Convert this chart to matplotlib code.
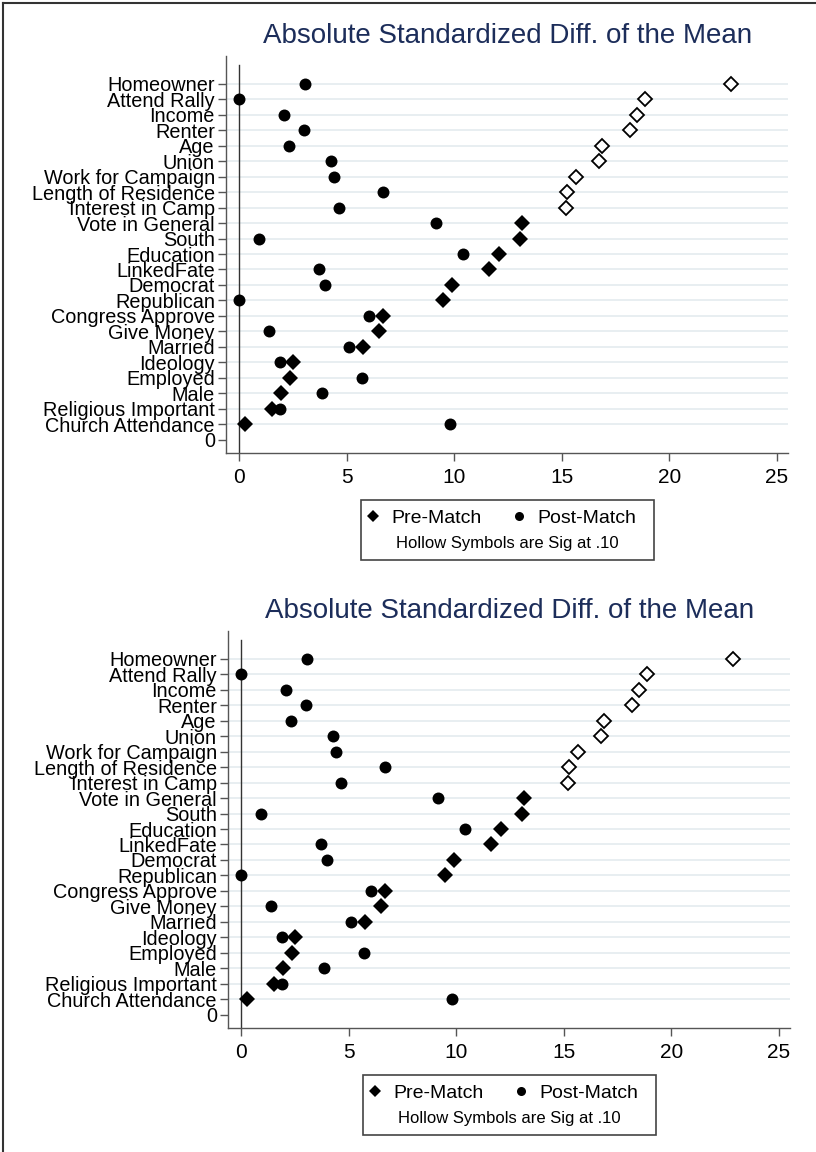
import matplotlib

matplotlib.use("Agg")
import matplotlib.pyplot as plt
from matplotlib.lines import Line2D
from matplotlib.patches import Rectangle

plt.rcParams["font.family"] = ["Liberation Sans", "DejaVu Sans"]

# covariates, top to bottom
VARIABLES = [
    "Homeowner", "Attend Rally", "Income", "Renter", "Age", "Union",
    "Work for Campaign", "Length of Residence", "Interest in Camp",
    "Vote in General", "South", "Education", "LinkedFate", "Democrat",
    "Republican", "Congress Approve", "Give Money", "Married", "Ideology",
    "Employed", "Male", "Religious Important", "Church Attendance",
]
PRE_MATCH = [
    22.85, 18.87, 18.48, 18.17, 16.88, 16.74, 15.66, 15.23, 15.18,
    13.15, 13.05, 12.08, 11.62, 9.88, 9.46, 6.7, 6.5, 5.75, 2.5,
    2.37, 1.95, 1.52, 0.28,
]
POST_MATCH = [
    3.06, 0.0, 2.09, 3.02, 2.34, 4.26, 4.44, 6.7, 4.67,
    9.15, 0.94, 10.4, 3.73, 4.0, 0.0, 6.05, 1.4, 5.1, 1.9,
    5.7, 3.86, 1.9, 9.8,
]
PRE_SIG = [True] * 9 + [False] * 14
X_TICKS = [0, 5, 10, 15, 20, 25]
TITLE = "Absolute Standardized Diff. of the Mean"

W, H = 816, 1152
TITLE_COLOR = "#1c2d5a"
GRID_COLOR = "#e1eaed"
AXIS_COLOR = "#555555"


def fx(px):
    return px / W


def fy(py):
    return 1 - py / H


def draw_panel(fig, left, top):
    # axes box in pixels: 562 wide, 397 tall
    ax = fig.add_axes([fx(left), fy(top + 397), fx(562), 397 / H])
    n = len(VARIABLES)
    ypos = [n - i for i in range(n)]

    for y in ypos:
        ax.axhline(y, color=GRID_COLOR, lw=1.1, zorder=0)
    ax.plot([0, 0], [-0.87, 24.23], color="#333333", lw=1.0, zorder=1)

    pre_h = [(x, y) for x, y, s in zip(PRE_MATCH, ypos, PRE_SIG) if s]
    pre_f = [(x, y) for x, y, s in zip(PRE_MATCH, ypos, PRE_SIG) if not s]
    ax.plot([p[0] for p in pre_f], [p[1] for p in pre_f], "D", color="black",
            ms=7.8, mew=0, zorder=3)
    ax.plot([p[0] for p in pre_h], [p[1] for p in pre_h], "D", mfc="white",
            mec="black", ms=7.6, mew=1.3, zorder=3)
    ax.plot(POST_MATCH, ypos, "o", color="black", ms=8.6, mew=0, zorder=3)

    ax.set_xlim(-0.60, 25.51)
    ax.set_ylim(-0.87, 24.81)
    ax.set_xticks(X_TICKS)
    ax.set_xticklabels([str(t) for t in X_TICKS], fontsize=15)
    ax.set_yticks(ypos + [0])
    ax.set_yticklabels(VARIABLES + ["0"], fontsize=14.3)
    ax.tick_params(axis="both", length=6, width=1.0, color=AXIS_COLOR,
                   direction="out", pad=2)
    ax.tick_params(axis="x", pad=5)
    for side in ("top", "right"):
        ax.spines[side].set_visible(False)
    for side in ("left", "bottom"):
        ax.spines[side].set_color(AXIS_COLOR)
        ax.spines[side].set_linewidth(1.0)

    fig.text(fx(left + 282), fy(top - 20), TITLE, ha="center", va="center",
             fontsize=20, color=TITLE_COLOR)

    # legend box
    bx, by = left + 135, top + 444
    fig.patches.append(Rectangle((fx(bx), fy(by + 60)), fx(293), 60 / H,
                                 transform=fig.transFigure, fill=False,
                                 edgecolor="#444444", lw=1.2))
    handles = [
        Line2D([], [], ls="none", marker="D", color="black", ms=6.5, mew=0,
               label="Pre-Match"),
        Line2D([], [], ls="none", marker="o", color="black", ms=6.5, mew=0,
               label="Post-Match"),
    ]
    fig.legend(handles=handles, loc="center left", ncol=2, frameon=False,
               fontsize=14, bbox_to_anchor=(fx(bx + 3), fy(by + 18)),
               handlelength=0.9, handletextpad=0.5, columnspacing=1.5,
               borderpad=0, borderaxespad=0)
    fig.text(fx(bx + 146), fy(by + 43), "Hollow Symbols are Sig at .10",
             ha="center", va="center", fontsize=12)
    return ax


fig = plt.figure(figsize=(W / 100, H / 100), dpi=100)
draw_panel(fig, 226, 56)
draw_panel(fig, 228, 631)

# outer frame (top and left edges)
fig.add_artist(Line2D([fx(3), fx(816)], [fy(3), fy(3)], color="#333333",
                      lw=1.5, transform=fig.transFigure))
fig.add_artist(Line2D([fx(3), fx(3)], [fy(3), fy(1152)], color="#333333",
                      lw=1.5, transform=fig.transFigure))

fig.savefig("out.png", dpi=100)
